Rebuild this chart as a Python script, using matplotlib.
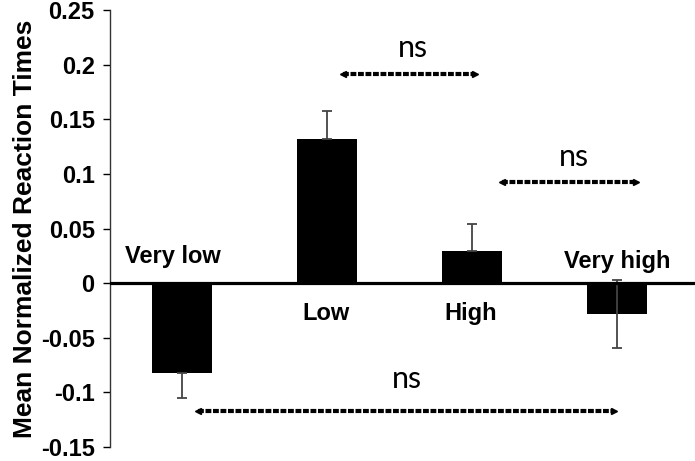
import matplotlib
matplotlib.use("Agg")
import matplotlib.pyplot as plt
import numpy as np

# values
categories = ["Very low", "Low", "High", "Very high"]
means = [-0.082, 0.132, 0.029, -0.028]
errors = [0.023, 0.026, 0.025, 0.031]
yticks = [-0.15, -0.1, -0.05, 0, 0.05, 0.1, 0.15, 0.2, 0.25]
ytick_labels = ["-0.15", "-0.1", "-0.05", "0", "0.05", "0.1", "0.15", "0.2", "0.25"]

# category label placement (x, y) in data units
label_pos = [(-0.06, 0.0245), (0.99, -0.028), (1.99, -0.028), (3.0, 0.02)]

# "ns" comparisons: (x start, x end, arrow y, text x, text y)
ns_marks = [
    (1.11, 2.02, 0.1915, 1.59, 0.2155),
    (2.21, 3.13, 0.0925, 2.70, 0.1155),
    (0.11, 2.98, -0.117, 1.55, -0.088),
]

plt.rcParams['font.family'] = ['Liberation Sans', 'DejaVu Sans']

fig = plt.figure(figsize=(6.95, 4.61), dpi=100)
ax = fig.add_axes([110 / 695, 14 / 461, 1 - 110 / 695, 437 / 461])

x = np.arange(len(categories))
ax.bar(x, means, width=0.41, color="black", zorder=3)

# error bars only on the outer side of each bar, except the last one
lower = [e if m < 0 else 0 for m, e in zip(means, errors)]
upper = [e if m > 0 else 0 for m, e in zip(means, errors)]
lower[3] = errors[3]
upper[3] = errors[3]
ax.errorbar(x, means, yerr=[lower, upper], fmt="none", ecolor="#444444",
            elinewidth=1.3, capsize=3.5, capthick=1.3, zorder=4)

ax.axhline(0, color="black", linewidth=2.3, zorder=5)

for name, (lx, ly) in zip(categories, label_pos):
    ax.text(lx, ly, name, ha="center", va="center", fontsize=17,
            fontweight="bold", zorder=6)

for x0, x1, ay, tx, ty in ns_marks:
    ax.plot([x0, x1], [ay, ay], color="black", linewidth=3,
            linestyle=(0, (1.4, 0.4)), zorder=6)
    ax.plot([x0], [ay], marker="<", color="black", markersize=4, zorder=6)
    ax.plot([x1], [ay], marker=">", color="black", markersize=4, zorder=6)
    ax.text(tx, ty, "ns", ha="center", va="center", fontsize=22,
            family=["Lato", "DejaVu Sans"], zorder=6)

ax.set_xlim(-0.497, 3.538)
ax.set_ylim(-0.15, 0.25)
ax.set_yticks(yticks)
ax.set_yticklabels(ytick_labels, fontsize=17, fontweight="bold")
ax.set_xticks([])
ax.tick_params(axis="y", direction="out", length=5, width=1, pad=6)
ax.set_ylabel("Mean Normalized Reaction Times", fontsize=19, fontweight="bold",
              labelpad=3)

for side in ["top", "right", "bottom"]:
    ax.spines[side].set_visible(False)
ax.spines["left"].set_linewidth(1)
ax.spines["left"].set_color("#333333")

fig.savefig("out.png", dpi=100)
